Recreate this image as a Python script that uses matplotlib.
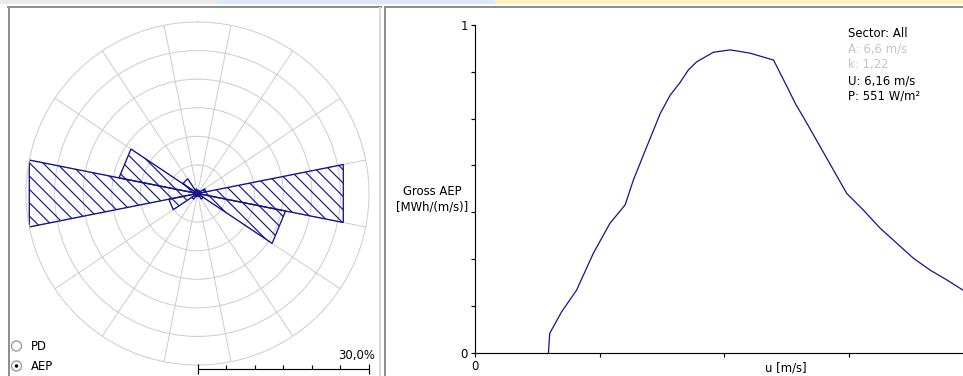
import numpy as np
import matplotlib
matplotlib.use("Agg")
import matplotlib.pyplot as plt
from matplotlib.patches import Rectangle, Ellipse
from matplotlib.lines import Line2D

# AEP share per direction sector [%], 16 sectors clockwise from north
sectors = ['N', 'NNE', 'NE', 'ENE', 'E', 'ESE', 'SE', 'SSE',
           'S', 'SSW', 'SW', 'WSW', 'W', 'WNW', 'NW', 'NNW']
sector_aep = [0.6, 0.5, 0.6, 1.5, 26.0, 15.7, 1.2, 0.5,
              0.5, 0.6, 1.2, 5.1, 30.0, 14.0, 3.1, 0.8]
rose_max = 30.0

# gross AEP distribution vs wind speed
u_ms = [2.95, 3.0, 3.48, 4.08, 4.75, 5.42, 6.03, 6.36, 6.9, 7.44, 7.84, 8.24,
        8.57, 8.91, 9.58, 10.25, 10.65, 11.05, 11.99, 12.53, 12.86, 13.33,
        13.86, 14.93, 15.6, 16.27, 16.94, 17.61, 18.28, 18.95, 19.7]
gross_aep = [0.0, 0.059, 0.125, 0.191, 0.303, 0.395, 0.451, 0.527, 0.629, 0.73,
             0.786, 0.825, 0.863, 0.888, 0.917, 0.924, 0.919, 0.914, 0.893,
             0.812, 0.761, 0.7, 0.629, 0.486, 0.435, 0.38, 0.334, 0.288,
             0.252, 0.222, 0.186]

info_lines = ['Sector: All', 'A: 6,6 m/s', 'k: 1,22', 'U: 6,16 m/s', 'P: 551 W/m²']
info_dimmed = [False, True, True, False, False]

W, H, DPI = 963, 376, 120
NAVY = '#14148c'
GRID = '#cdcdcd'
plt.rcParams['font.family'] = ['DejaVu Sans']
plt.rcParams['font.size'] = 7
plt.rcParams['hatch.linewidth'] = 0.7


def fx(px):
    return px / W


def fy(py):
    return 1 - py / H


fig = plt.figure(figsize=(W / DPI, H / DPI), dpi=DPI, facecolor='white')

# window chrome: top strip and panel borders
for x0, x1, col in [(0, 217, '#e9e9e9'), (217, 495, '#dce9f8'), (495, W, '#fbf2c0')]:
    fig.add_artist(Rectangle((fx(x0), fy(4)), (x1 - x0) / W, 4 / H,
                             transform=fig.transFigure, fc=col, ec='none'))
for xs, ys, col in [([8, 381], [7, 7], '#8f8f8f'), ([8.5, 8.5], [7, H], '#8f8f8f'),
                    ([380, 380], [8, H], '#dadada'),
                    ([385, W], [7, 7], '#8f8f8f'), ([385, 385], [7, H], '#8f8f8f')]:
    fig.add_artist(Line2D([fx(v) for v in xs], [fy(v) for v in ys],
                          transform=fig.transFigure, color=col, lw=1.2))

# wind rose
cx, cy, R = 197.5, 193.5, 171.5
ax = fig.add_axes([fx(cx - R), fy(cy + R), 2 * R / W, 2 * R / H], projection='polar')
ax.set_theta_zero_location('N')
ax.set_theta_direction(-1)
ax.set_ylim(0, rose_max)
ax.set_yticks(np.arange(5, rose_max, 5))
ax.set_yticklabels([])
ax.set_xticks(np.deg2rad(np.arange(16) * 22.5 + 11.25))
ax.set_xticklabels([])
ax.tick_params(length=0)
ax.grid(color=GRID, lw=0.6)
ax.spines['polar'].set_color(GRID)
ax.spines['polar'].set_linewidth(0.6)
ax.set_axisbelow(True)

half = np.pi / len(sectors)
for i, v in enumerate(sector_aep):
    c = 2 * np.pi * i / len(sectors)
    ax.fill([0, c - half, c + half, 0], [0, v, v, 0], facecolor='none',
            edgecolor=NAVY, hatch='\\\\\\', lw=0.8)

# scale bar under the rose
sb = fig.add_axes([fx(cx), fy(369), R / W, 0.03])
sb.set_facecolor('none')
sb.set_xlim(0, rose_max)
for s in ['top', 'left', 'right']:
    sb.spines[s].set_visible(False)
sb.spines['bottom'].set_linewidth(0.7)
sb.set_yticks([])
sb.set_xticks([0, rose_max])
sb.set_xticks(np.arange(5, rose_max, 5), minor=True)
sb.set_xticklabels([])
sb.tick_params(axis='x', which='major', direction='inout', length=6, width=0.7)
sb.tick_params(axis='x', which='minor', direction='in', length=2.5, width=0.7)
fig.text(fx(375), fy(356), f'{rose_max:.1f}%'.replace('.', ','), ha='right', va='center')

# PD / AEP selector
for label, y, on in [('PD', 346, False), ('AEP', 366, True)]:
    fig.add_artist(Ellipse((fx(16.5), fy(y)), 10 / W, 10 / H, transform=fig.transFigure,
                           fc='white', ec='#9a9a9a', lw=0.8))
    if on:
        fig.add_artist(Ellipse((fx(16.5), fy(y)), 3.5 / W, 3.5 / H,
                               transform=fig.transFigure, fc='black', ec='none'))
    fig.text(fx(31), fy(y), label, ha='left', va='center')

# gross AEP curve
x0_px, y0_px, top_px, u_max = 475, 352.7, 25, 25
px_per_ms = 24.9
ax2 = fig.add_axes([fx(x0_px), fy(y0_px), u_max * px_per_ms / W, (y0_px - top_px) / H])
ax2.plot(u_ms, gross_aep, color=NAVY, lw=0.75)
ax2.set_xlim(0, u_max)
ax2.set_ylim(0, 1)
ax2.spines['top'].set_visible(False)
ax2.spines['right'].set_visible(False)
for s in ['left', 'bottom']:
    ax2.spines[s].set_linewidth(0.7)
xt = np.arange(0, u_max + 1, 5)
ax2.set_xticks(xt)
ax2.set_xticklabels(['0'] + [''] * (len(xt) - 1))
yt = np.linspace(0, 1, 8)
ax2.set_yticks(yt)
ax2.set_yticklabels(['0'] + [''] * (len(yt) - 2) + ['1'])
ax2.tick_params(direction='out', length=2.4, width=0.7, pad=1.8, labelsize=7)
ax2.set_xlabel('u [m/s]')
ax2.xaxis.set_label_coords(0.5, (y0_px - 368) / (y0_px - top_px))
ax2.xaxis.label.set_va('center')
ax2.set_ylabel('Gross AEP\n[MWh/(m/s)]', rotation=0, ha='center', va='center',
               multialignment='center', linespacing=1.25)
ax2.yaxis.set_label_coords((432 - x0_px) / (u_max * px_per_ms),
                           (y0_px - 199) / (y0_px - top_px))

for i, (txt, dim) in enumerate(zip(info_lines, info_dimmed)):
    fig.text(fx(848), fy(33.5 + 15.7 * i), txt, ha='left', va='center',
             color='#c4c4c4' if dim else 'black')

fig.savefig('out.png', dpi=DPI, facecolor='white')
